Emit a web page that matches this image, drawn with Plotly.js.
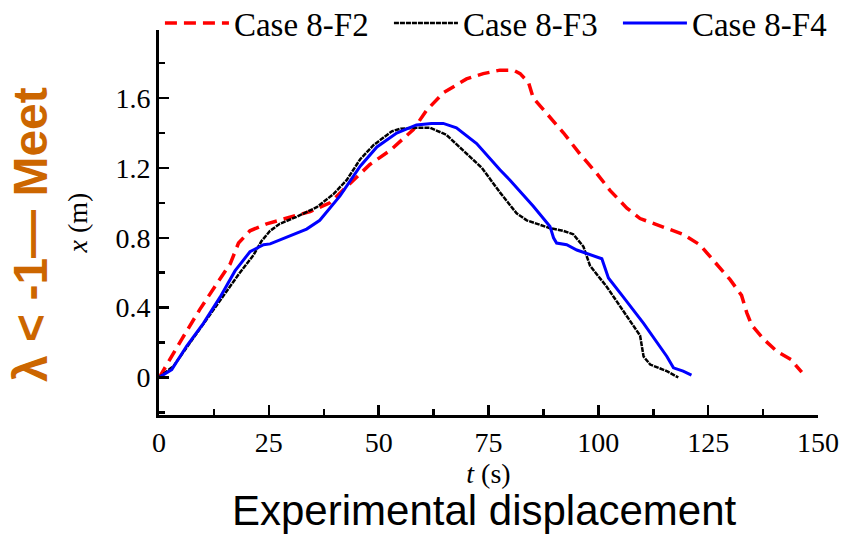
<!DOCTYPE html>
<html>
<head>
<meta charset="utf-8">
<script src="https://cdn.plot.ly/plotly-3.0.1.min.js"></script>
<style>html,body{margin:0;padding:0;background:#fff;}#chart{width:842px;height:535px;}</style>
</head>
<body>
<div id="chart"></div>
<script>
// Case 8-F2 (red dashed)
var tF2 = [0, 0.3, 5.2, 9.3, 12.7, 16.2, 18.1, 20.7, 24.5, 29.8, 34.4, 38.9, 43.5, 48, 52.6, 57.9, 60.9, 64.7, 70, 73.8, 77.6, 80.7, 82.2, 84.1, 85.2, 88.3, 92.1, 95.8, 99.6, 102.7, 106.5, 109.5, 111.8, 115.6, 119.3, 123.1, 126.2, 130, 132.6, 133.8, 134.9, 137.6, 140.6, 144, 145.1, 146.3];
var xF2 = [0, 0.01, 0.22, 0.39, 0.52, 0.65, 0.77, 0.84, 0.88, 0.92, 0.95, 1.00, 1.11, 1.22, 1.30, 1.42, 1.53, 1.63, 1.71, 1.74, 1.76, 1.76, 1.74, 1.69, 1.60, 1.51, 1.40, 1.28, 1.17, 1.07, 0.97, 0.91, 0.89, 0.855, 0.82, 0.76, 0.67, 0.56, 0.47, 0.37, 0.30, 0.22, 0.15, 0.10, 0.065, 0.03];
// Case 8-F3 (black dotted)
var tF3 = [0, 3.3, 7.1, 10.8, 14.6, 18.4, 21.5, 23.3, 25.3, 27.5, 31.3, 35.9, 39.7, 42.7, 45.8, 48.8, 53, 55, 58.6, 61.7, 65.4, 70, 73.5, 77.6, 81.4, 83.7, 86.5, 89, 92, 94.3, 96.6, 98.1, 101.9, 104.9, 108, 109.5, 110.3, 111.8, 115.6, 118.2];
var xF3 = [0, 0.065, 0.20, 0.33, 0.46, 0.60, 0.70, 0.78, 0.84, 0.88, 0.92, 0.975, 1.05, 1.13, 1.25, 1.33, 1.41, 1.425, 1.43, 1.43, 1.39, 1.28, 1.20, 1.06, 0.94, 0.90, 0.875, 0.855, 0.84, 0.82, 0.75, 0.64, 0.52, 0.41, 0.29, 0.24, 0.12, 0.074, 0.036, 0];
// Case 8-F4 (blue solid)
var tF4 = [0, 2.9, 6.3, 10.1, 13.9, 17.3, 20.7, 23.8, 25.3, 29.8, 33.6, 36.6, 41.2, 45.8, 49.6, 54.1, 58.6, 62, 64.7, 67.7, 72.3, 77.6, 79.9, 85.2, 89, 89.8, 90.5, 92.8, 95.1, 100.8, 102.3, 105.7, 110.3, 115.6, 117.1, 119.3, 121.2];
var xF4 = [0, 0.045, 0.18, 0.31, 0.46, 0.61, 0.72, 0.76, 0.765, 0.81, 0.85, 0.90, 1.04, 1.21, 1.32, 1.40, 1.446, 1.455, 1.455, 1.43, 1.34, 1.19, 1.13, 0.98, 0.865, 0.80, 0.77, 0.76, 0.73, 0.68, 0.57, 0.46, 0.31, 0.12, 0.055, 0.036, 0.013];

var seriesNames = ['Case 8-F2', 'Case 8-F3', 'Case 8-F4'];
var xTicks = [0, 25, 50, 75, 100, 125, 150];
var xMinorTicks = [12.5, 37.5, 62.5, 87.5, 112.5, 137.5];
var yTicks = [0, 0.4, 0.8, 1.2, 1.6];
var yTickText = ['0', '0.4', '0.8', '1.2', '1.6'];
var yMinorTicks = [-0.2, 0.2, 0.6, 1.0, 1.4, 1.8];

var serif = 'Liberation Serif, Times New Roman, serif';
var sans = 'Liberation Sans, Arial, sans-serif';

var traces = [
  {x: tF2, y: xF2, name: seriesNames[0], type: 'scatter', mode: 'lines',
   line: {color: '#ff0000', width: 3.5, dash: '12px,7px'}},
  {x: tF3, y: xF3, name: seriesNames[1], type: 'scatter', mode: 'lines',
   line: {color: '#000000', width: 2.5, dash: '5px,1px'}},
  {x: tF4, y: xF4, name: seriesNames[2], type: 'scatter', mode: 'lines',
   line: {color: '#0000ff', width: 3}}
];

var layout = {
  width: 842, height: 535,
  paper_bgcolor: '#ffffff', plot_bgcolor: '#ffffff',
  margin: {l: 159, r: 24, t: 30, b: 120, pad: 0, autoexpand: false},
  showlegend: true,
  legend: {
    orientation: 'h', x: -0.0001, xanchor: 'left', y: 1.018, yanchor: 'middle',
    font: {family: serif, size: 33, color: '#000'},
    itemwidth: 64, entrywidth: 150, entrywidthmode: 'pixels',
    bgcolor: 'rgba(0,0,0,0)', borderwidth: 1, bordercolor: 'rgba(0,0,0,0)'
  },
  xaxis: {
    range: [0, 150], tickvals: xTicks, ticktext: xTicks.map(String),
    ticks: 'inside', ticklen: 10, tickwidth: 2.5, tickcolor: '#000',
    minor: {tickvals: xMinorTicks, ticks: 'inside', ticklen: 6, tickwidth: 2.5, tickcolor: '#000'},
    showline: true, linewidth: 3, linecolor: '#000', mirror: false,
    showgrid: false, zeroline: false,
    tickfont: {family: serif, size: 28, color: '#000'},
    title: {text: '<i>t</i> (s)', font: {family: serif, size: 28, color: '#000'}, standoff: 0}
  },
  yaxis: {
    range: [-0.215, 1.99], tickvals: yTicks, ticktext: yTickText,
    ticks: 'inside', ticklen: 10, tickwidth: 2.5, tickcolor: '#000',
    minor: {tickvals: yMinorTicks, ticks: 'inside', ticklen: 6, tickwidth: 2.5, tickcolor: '#000'},
    showline: true, linewidth: 3, linecolor: '#000', mirror: false,
    showgrid: false, zeroline: false,
    tickfont: {family: serif, size: 28, color: '#000'},
    title: {text: '<i>x</i> (m)', font: {family: serif, size: 28, color: '#000'}, standoff: 20}
  },
  annotations: [
    {text: 'λ < -1— Meet', xref: 'paper', yref: 'paper',
     x: (30 - 159) / 659, y: (415 - 235) / 385, xanchor: 'center', yanchor: 'middle',
     textangle: -90, showarrow: false,
     font: {family: sans, size: 48, color: '#cc6600', weight: 'bold'}},
    {text: 'Experimental displacement', xref: 'paper', yref: 'paper',
     x: (484 - 159) / 659, y: (415 - 535) / 385, xanchor: 'center', yanchor: 'bottom',
     showarrow: false, borderpad: 0,
     font: {family: sans, size: 42, color: '#000'}}
  ]
};

Plotly.newPlot('chart', traces, layout, {displayModeBar: false, staticPlot: true});
</script>
</body>
</html>
